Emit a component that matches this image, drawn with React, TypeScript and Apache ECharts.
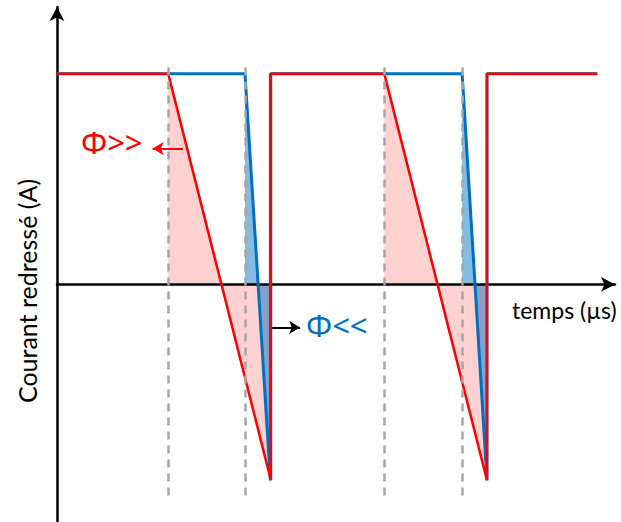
import React, { useEffect, useRef } from "react";
import * as echarts from "echarts";

// Axis extents (time in µs, current normalised to the plateau)
const X_MAX = 10.33;
const Y_MIN = -1.128;
const Y_MAX = 1.3175;

// Waveforms
const redWave = [[0, 1], [2.06, 1], [3.96, -0.93], [3.96, 1], [6.06, 1], [7.96, -0.93], [7.96, 1], [10, 1]];
const blueWave = [[0, 1], [3.48, 1], [3.95, -0.93], [3.95, 1], [7.5, 1], [7.96, -0.93], [7.96, 1], [10, 1]];

// Shaded regions (bow-tie polygons: above axis / below axis)
const pinkPolys = [
  [[2.06, 1], [3.96, -0.93], [3.96, 0], [2.06, 0]],
  [[6.06, 1], [7.96, -0.93], [7.96, 0], [6.06, 0]],
];
const bluePolys = [
  [[3.48, 1], [3.95, -0.93], [3.95, 0], [3.48, 0]],
  [[7.5, 1], [7.96, -0.93], [7.96, 0], [7.5, 0]],
];

// Dashed markers
const dashX = [2.06, 3.48, 6.06, 7.5];
const dashTop = 1.03;
const dashBottom = -1.015;

// Annotation arrows [x1, x2, y]
const redArrow = [2.33, 1.77, 0.645];
const blackArrow = [3.98, 4.5, -0.204];

const RED = "#ff0000";
const BLUE = "#0070c0";
const FONT = "Lato, 'Open Sans', sans-serif";
const PHI_FONT = "'Noto Sans', 'Open Sans', sans-serif";

function polySeries(polys: number[][][], color: string, z: number) {
  return {
    type: "custom",
    z,
    silent: true,
    data: polys.map((_, i) => [i, 0]),
    renderItem: (params: any, api: any) => {
      const poly = polys[params.dataIndex];
      return {
        type: "polygon",
        shape: { points: poly.map((p) => api.coord(p)) },
        style: { fill: color, stroke: "none" },
      };
    },
  };
}

export default function App() {
  const ref = useRef<HTMLDivElement>(null);
  useEffect(() => {
    document.body.style.margin = "0";
    const chart = echarts.init(ref.current!, undefined, { renderer: "svg" });
    chart.setOption({
      animation: false,
      grid: { left: 57, right: 6, top: 7, bottom: 0, containLabel: false },
      xAxis: {
        type: "value",
        min: 0,
        max: X_MAX,
        z: 2,
        axisLine: {
          onZero: true,
          symbol: ["none", "arrow"],
          symbolSize: [11, 14],
          lineStyle: { color: "#000", width: 2.5 },
        },
        axisTick: { show: false },
        axisLabel: { show: false },
        splitLine: { show: false },
      },
      yAxis: {
        type: "value",
        min: Y_MIN,
        max: Y_MAX,
        z: 2,
        axisLine: {
          show: true,
          onZero: false,
          symbol: ["none", "arrow"],
          symbolSize: [11, 14],
          lineStyle: { color: "#000", width: 2.5 },
        },
        axisTick: { show: false },
        axisLabel: { show: false },
        splitLine: { show: false },
      },
      series: [
        polySeries(pinkPolys, "rgba(255,0,0,0.18)", 1),
        polySeries(bluePolys, "rgba(0,112,192,0.48)", 1),
        {
          type: "line",
          z: 3,
          data: blueWave,
          symbol: "none",
          lineStyle: { color: BLUE, width: 3 },
          silent: true,
        },
        {
          type: "line",
          z: 4,
          data: redWave,
          symbol: "none",
          lineStyle: { color: RED, width: 2.5 },
          silent: true,
          markLine: {
            silent: true,
            symbol: ["none", "arrow"],
            symbolSize: [10, 11],
            label: { show: false },
            data: [
              [
                { coord: [redArrow[0], redArrow[2]], lineStyle: { color: RED, width: 2, type: "solid" } },
                { coord: [redArrow[1], redArrow[2]] },
              ],
              [
                { coord: [blackArrow[0], blackArrow[2]], lineStyle: { color: "#000", width: 2, type: "solid" } },
                { coord: [blackArrow[1], blackArrow[2]] },
              ],
            ],
          },
        },
        {
          type: "line",
          z: 5,
          data: [],
          markLine: {
            silent: true,
            symbol: "none",
            label: { show: false },
            lineStyle: { color: "#a6a6a6", width: 2.5, type: [8, 6] },
            data: dashX.map((x) => [{ coord: [x, dashTop] }, { coord: [x, dashBottom] }]),
          },
        },
      ],
      graphic: [
        {
          type: "text",
          x: 81,
          y: 142,
          z: 10,
          style: { text: "Φ>>", fill: RED, font: `31px ${PHI_FONT}`, textVerticalAlign: "middle" },
        },
        {
          type: "text",
          x: 306,
          y: 325,
          z: 10,
          style: { text: "Φ<<", fill: BLUE, font: `31px ${PHI_FONT}`, textVerticalAlign: "middle" },
        },
        {
          type: "text",
          x: 512,
          y: 310,
          z: 10,
          style: { text: "temps (µs)", fill: "#000", font: `23px ${FONT}`, textVerticalAlign: "middle" },
        },
        {
          type: "text",
          x: 27,
          y: 291,
          rotation: Math.PI / 2,
          z: 10,
          style: {
            text: "Courant redressé (A)",
            fill: "#000",
            font: `25px ${FONT}`,
            textAlign: "center",
            textVerticalAlign: "middle",
          },
        },
      ],
    });
    return () => chart.dispose();
  }, []);
  return <div ref={ref} style={{ position: "absolute", left: 0, top: 0, width: 621, height: 522 }} />;
}
